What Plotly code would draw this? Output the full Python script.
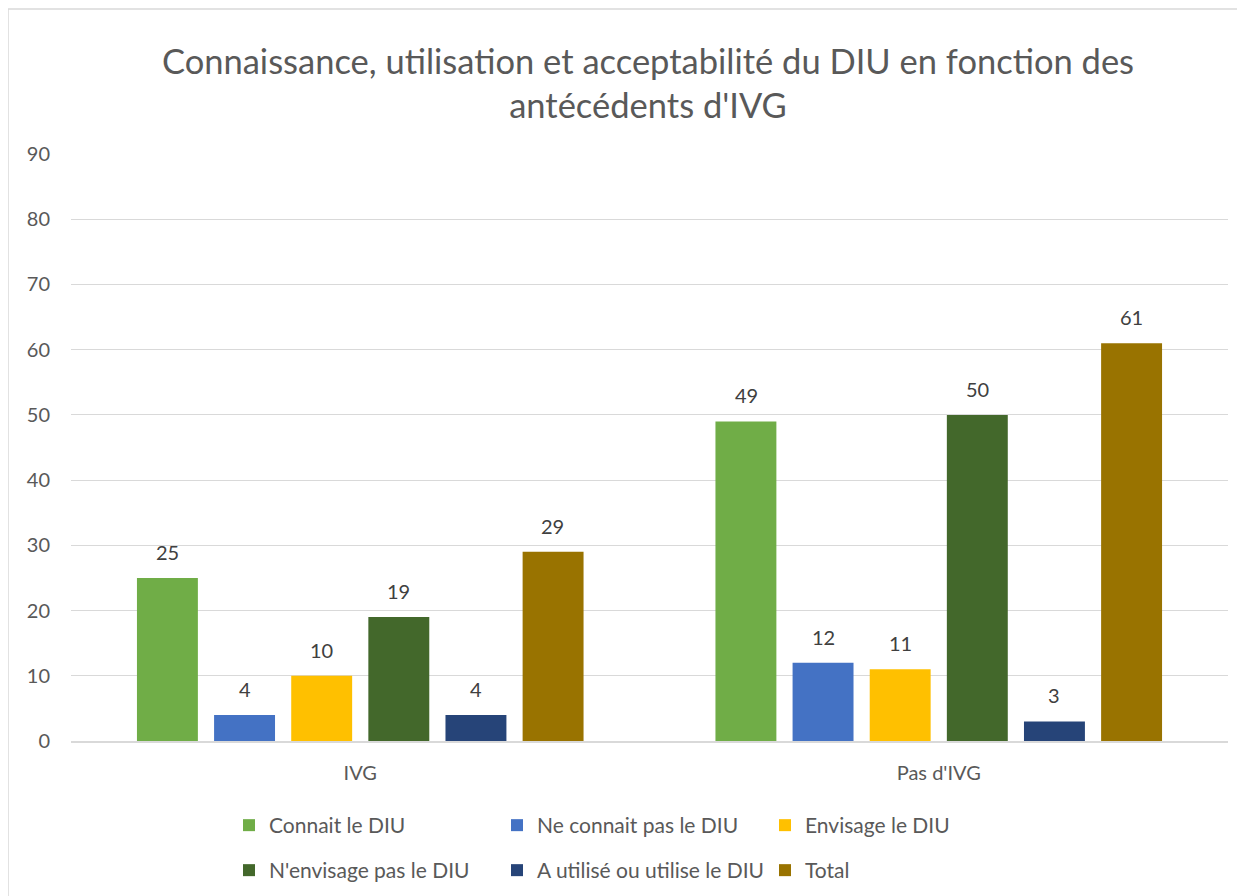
import plotly.graph_objects as go

categories = ["IVG", "Pas d'IVG"]
series_names = ["Connait le DIU", "Ne connait pas le DIU", "Envisage le DIU",
                "N'envisage pas le DIU", "A utilisé ou utilise le DIU", "Total"]
connait = [25, 49]
ne_connait_pas = [4, 12]
envisage = [10, 11]
n_envisage_pas = [19, 50]
a_utilise = [4, 3]
total = [29, 61]
series_values = [connait, ne_connait_pas, envisage, n_envisage_pas, a_utilise, total]
colors = ["#70AD47", "#4472C4", "#FFC000", "#43682B", "#264478", "#997300"]
y_ticks = [0, 10, 20, 30, 40, 50, 60, 70, 80, 90]

# the page places the figure 8 px from the top-left corner
W, H = 1245, 896
ml, mr, mt, mb = 63, 25, 146, 163
pw = W - ml - mr
ph = H - mt - mb
FONT = "Lato"

fig = go.Figure()
for i, (name, vals, col) in enumerate(zip(series_names, series_values, colors)):
    fig.add_trace(go.Bar(x=categories, y=vals, name=name, marker_color=col,
                         marker_line_width=0,
                         legend="legend" if i < 3 else "legend2"))

# data labels
step = 77
n = len(series_names)
for i, vals in enumerate(series_values):
    for c, v in zip(categories, vals):
        fig.add_annotation(x=c, y=v, text=str(v), showarrow=False,
                           xshift=(i - (n - 1) / 2) * step, yshift=26,
                           font=dict(family=FONT, size=20, color="#404040"))

# chart border
fig.add_shape(type="rect", xref="paper", yref="paper",
              x0=(0 - ml) / pw, x1=(1260 - ml) / pw,
              y0=(H - mb - 920) / ph, y1=(H - mb - 1) / ph,
              line=dict(color="#D9D9D9", width=1.5), fillcolor="rgba(0,0,0,0)")

leg_common = dict(orientation="h", xanchor="left", yanchor="top",
                  entrywidth=223, entrywidthmode="pixels",
                  font=dict(family=FONT, size=21, color="#595959"),
                  itemsizing="constant", bgcolor="rgba(0,0,0,0)")
leg_x = (221 - ml) / pw

fig.update_layout(
    width=W, height=H,
    margin=dict(l=ml, r=mr, t=mt, b=mb),
    paper_bgcolor="white", plot_bgcolor="white",
    barmode="group", bargap=0.2, bargroupgap=0.21,
    title=dict(text="Connaissance, utilisation et acceptabilité du DIU en fonction des<br>antécédents d'IVG",
               x=640 / W, xanchor="center", y=1 - 65.5 / H, yanchor="middle",
               font=dict(family=FONT, size=34.5, color="#595959")),
    font=dict(family=FONT, color="#595959"),
    legend=dict(x=leg_x, y=(H - mb - 797) / ph, **leg_common),
    legend2=dict(x=leg_x, y=(H - mb - 842) / ph, **leg_common),
    showlegend=True,
)
fig.update_xaxes(showline=True, linecolor="#D9D9D9", linewidth=1.5,
                 ticks="", tickfont=dict(family=FONT, size=20, color="#595959"),
                 ticklabelstandoff=13)
fig.update_yaxes(range=[0, 90], tickvals=y_ticks, showgrid=True, gridcolor="#D9D9D9",
                 gridwidth=1, zeroline=False, showline=False, ticks="",
                 tickfont=dict(family=FONT, size=20, color="#595959"),
                 ticklabelstandoff=20)

fig.write_html("out.html")
